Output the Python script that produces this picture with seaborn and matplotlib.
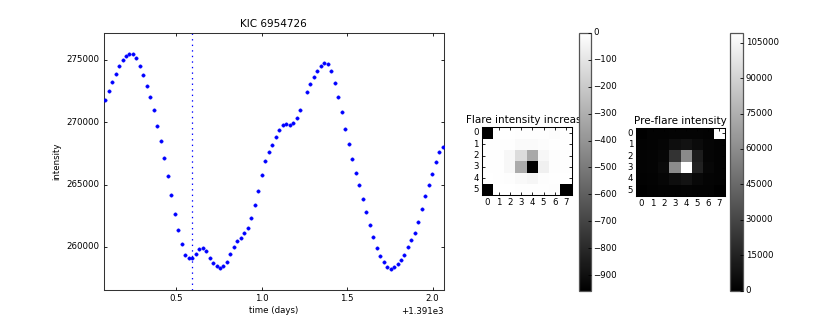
import numpy as np
import pandas as pd
import matplotlib
matplotlib.use("Agg")
import matplotlib.pyplot as plt
import seaborn as sns
from matplotlib.ticker import ScalarFormatter

# ---------------- data ----------------
BJD_BASE = 1391.0
time_offset_days = [
    0.0868, 0.1067, 0.1259, 0.1476, 0.1669, 0.1885, 0.2078, 0.2271, 0.2487, 0.2680,
    0.2896, 0.3089, 0.3305, 0.3498, 0.3714, 0.3907, 0.4123, 0.4316, 0.4532, 0.4725,
    0.4924, 0.5134, 0.5333, 0.5526, 0.5742, 0.5953, 0.6151, 0.6362, 0.6560, 0.6753,
    0.6970, 0.7162, 0.7379, 0.7572, 0.7764, 0.7981, 0.8174, 0.8390, 0.8583, 0.8799,
    0.8992, 0.9208, 0.9401, 0.9600, 0.9810, 1.0009, 1.0219, 1.0418, 1.0628, 1.0827,
    1.1020, 1.1236, 1.1429, 1.1645, 1.1838, 1.2054, 1.2247, 1.2656, 1.2849, 1.3065,
    1.3258, 1.3475, 1.3668, 1.3884, 1.4077, 1.4293, 1.4486, 1.4702, 1.4895, 1.5111,
    1.5304, 1.5503, 1.5713, 1.5912, 1.6104, 1.6321, 1.6531, 1.6730, 1.6940, 1.7139,
    1.7332, 1.7548, 1.7741, 1.7957, 1.8150, 1.8343, 1.8559, 1.8752, 1.8968, 1.9161,
    1.9377, 1.9570, 1.9787, 1.9979, 2.0196, 2.0389, 2.0587,
]
intensity = [
    271770, 272517, 273211, 273879, 274466, 274973, 275294, 275454, 275454, 275107,
    274493, 273772, 272891, 271983, 270968, 269687, 268459, 267124, 265670, 264165,
    262670, 261370, 260265, 259380, 259091, 259144, 259438, 259813, 259893, 259679,
    259144, 258743, 258449, 258315, 258449, 258823, 259438, 260027, 260481, 260749,
    261096, 261551, 262326, 263330, 264485, 265780, 266870, 267577, 268165, 268806,
    269393, 269740, 269820, 269740, 269900, 270328, 270942, 272410, 273051, 273585,
    274092, 274493, 274733, 274653, 274066, 273158, 272036, 270781, 269473, 268218,
    267043, 265949, 264934, 263839, 262798, 261730, 260769, 259941, 259274, 258820,
    258419, 258259, 258393, 258660, 258953, 259380, 259968, 260529, 261116, 261997,
    263012, 264053, 264934, 265842, 266830, 267577, 267978,
]
flare_time_offset = 0.5953

pixel_cols = ["0", "1", "2", "3", "4", "5", "6", "7"]
pixel_rows = ["0", "1", "2", "3", "4", "5"]

increase_rows = [
    [-957, -2, -3, -5, -6, -4, -12, 0],
    [-6, -4, -6, -20, -22, -12, -5, -3],
    [-5, -6, -30, -134, -325, -30, -8, -4],
    [-4, -6, -30, -316, -950, -57, -8, -5],
    [-3, -4, -8, -25, -35, -10, -5, -3],
    [-957, -2, -3, -4, -5, -4, -10, -957],
]
preflare_rows = [
    [0, 1500, 1700, 1900, 2000, 1800, 1500, 109000],
    [1200, 1700, 2500, 6000, 7700, 5000, 2200, 1400],
    [1400, 2000, 3400, 21800, 59000, 12000, 2500, 1600],
    [1400, 2000, 4300, 60000, 109233, 14500, 3000, 1600],
    [1200, 1700, 2600, 6000, 8500, 3500, 2000, 1300],
    [0, 1200, 1500, 1700, 1800, 1600, 1300, 0],
]

# ---------------- style ----------------
plt.style.use("classic")
base = 6.2
plt.rcParams.update({
    "font.family": ["DejaVu Sans"],
    "font.size": base,
    "axes.titlesize": base * 1.2,
    "axes.labelsize": base,
    "xtick.labelsize": base,
    "ytick.labelsize": base,
    "axes.linewidth": 0.75,
    "xtick.major.size": 2.2,
    "ytick.major.size": 2.2,
    "xtick.minor.size": 1.2,
    "ytick.minor.size": 1.2,
    "xtick.major.width": 0.6,
    "ytick.major.width": 0.6,
    "xtick.major.pad": 3,
    "ytick.major.pad": 3,
    "axes.titlepad": 4,
    "figure.facecolor": "white",
    "savefig.facecolor": "white",
})

W, H = 830, 332
fig = plt.figure(figsize=(W / 100, H / 100), dpi=100)


def frac(x0, y0, x1, y1):
    return [x0 / W, 1 - y1 / H, (x1 - x0) / W, (y1 - y0) / H]


# ---------------- light curve ----------------
ax = fig.add_axes(frac(103.7, 32.7, 444.0, 289.7))
df = pd.DataFrame({
    "time": BJD_BASE + np.array(time_offset_days),
    "intensity": intensity,
})
sns.scatterplot(data=df, x="time", y="intensity", ax=ax, color="#0000ff",
                s=6, marker="o", edgecolor="#0000ff", linewidth=0.3, zorder=3)
ax.axvline(BJD_BASE + flare_time_offset, color="#0000ff", linestyle=":", lw=0.9)
ax.set_xlim(BJD_BASE + 0.0774, BJD_BASE + 2.0663)
ax.set_ylim(256580, 277163)
ax.set_xticks(BJD_BASE + np.array([0.5, 1.0, 1.5, 2.0]))
xfmt = ScalarFormatter(useOffset=BJD_BASE)
ax.xaxis.set_major_formatter(xfmt)
ax.set_yticks([260000, 265000, 270000, 275000])
yfmt = ScalarFormatter(useOffset=False)
ax.yaxis.set_major_formatter(yfmt)
ax.set_title("KIC 6954726")
ax.set_xlabel("time (days)", labelpad=2)
ax.set_ylabel("intensity", labelpad=4)
ax.tick_params(direction="in", top=True, right=True)
for sp in ax.spines.values():
    sp.set_color("#333333")


# ---------------- pixel images ----------------
def pixel_panel(rows, box, cbox, title, vmin, vmax, cticks):
    iax = fig.add_axes(frac(*box))
    data = pd.DataFrame(rows, index=pixel_rows, columns=pixel_cols)
    sns.heatmap(data, ax=iax, cmap="gray", vmin=vmin, vmax=vmax, cbar=False,
                square=False, linewidths=0)
    for sp in iax.spines.values():
        sp.set_visible(True)
        sp.set_linewidth(0.75)
    iax.set_xticks(np.arange(8) + 0.5)
    iax.set_xticklabels(pixel_cols, rotation=0)
    iax.set_yticks(np.arange(6) + 0.5)
    iax.set_yticklabels(pixel_rows, rotation=0, va="center")
    iax.tick_params(direction="in", top=True, right=True, length=2.0,
                    width=0.6, colors="black", pad=2)
    iax.set_xlabel("")
    iax.set_ylabel("")
    iax.set_title(title, pad=3)
    cax = fig.add_axes(frac(*cbox))
    cb = fig.colorbar(iax.collections[0], cax=cax)
    cb.set_ticks(cticks)
    cb.ax.tick_params(direction="in", length=2.0, width=0.6, pad=2)
    cb.outline.set_linewidth(0.9)
    cb.outline.set_edgecolor("#555555")
    return iax, cax


pixel_panel(increase_rows, (481.7, 127.3, 571.7, 195.3), (578.7, 32.7, 590.7, 290.7),
            "Flare intensity increase", -957, 0, list(range(0, -1000, -100)))
pixel_panel(preflare_rows, (636.0, 127.7, 725.0, 196.0), (729.7, 32.7, 743.0, 290.7),
            "Pre-flare intensity", 0, 109233, list(range(0, 110000, 15000)))

fig.savefig("out.png", dpi=100)
